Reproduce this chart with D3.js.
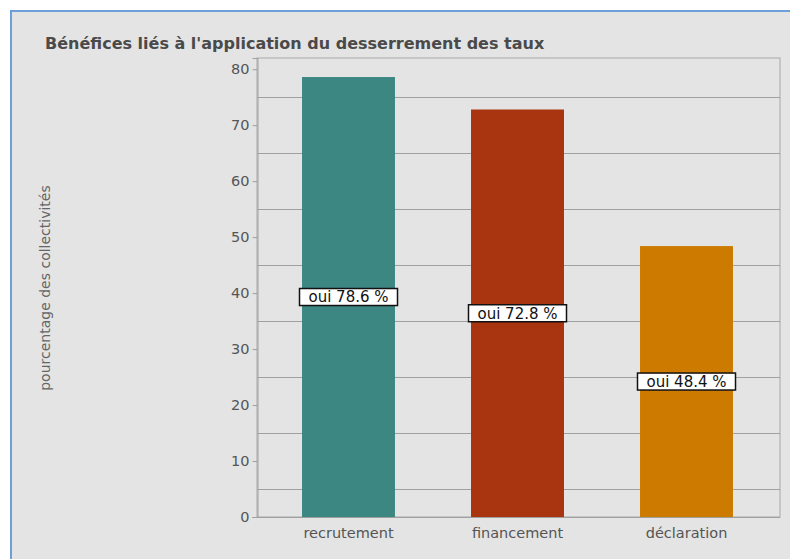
<!DOCTYPE html>
<html><head><meta charset="utf-8">
<script src="https://cdn.jsdelivr.net/npm/d3@7"></script>
<style>
html,body{margin:0;padding:0;background:#fff;}
svg{display:block;}
</style></head>
<body>
<script>
const categories = ["recrutement", "financement", "déclaration"];
const values = [78.6, 72.8, 48.4];
const labels = ["oui 78.6 %", "oui 72.8 %", "oui 48.4 %"];
const colors = ["#3d8782", "#a83410", "#cc7a00"];
const yTicks = [0, 10, 20, 30, 40, 50, 60, 70, 80];
const gridValues = [5, 15, 25, 35, 45, 55, 65, 75];
const title = "Bénéfices liés à l'application du desserrement des taux";
const yTitle = "pourcentage des collectivités";

const W = 790, H = 559;
const FONT = "DejaVu Sans, Verdana, sans-serif";
const svg = d3.select("body").append("svg").attr("width", W).attr("height", H);

// panel
svg.append("rect").attr("x", 11).attr("y", 11).attr("width", W).attr("height", H)
  .attr("fill", "#e4e4e4").attr("stroke", "#6d9fd8").attr("stroke-width", 2);

const plot = {left: 257, right: 780, top: 58, bottom: 517};
const y = d3.scaleLinear().domain([0, 82]).range([plot.bottom, plot.top]);
const x = d3.scaleBand().domain(categories).range([264, 771]).paddingInner(0.45).paddingOuter(0.225);

// plot frame
svg.append("rect").attr("x", plot.left).attr("y", plot.top)
  .attr("width", plot.right - plot.left).attr("height", plot.bottom - plot.top)
  .attr("fill", "none").attr("stroke", "#a8a8a8").attr("stroke-width", 1);

// gridlines
svg.append("g").selectAll("line").data(gridValues).join("line")
  .attr("x1", plot.left).attr("x2", plot.right)
  .attr("y1", d => Math.round(y(d)) + 0.5).attr("y2", d => Math.round(y(d)) + 0.5)
  .attr("stroke", "#a0a0a0").attr("stroke-width", 1);

// bars
svg.append("g").selectAll("rect").data(categories).join("rect")
  .attr("x", d => x(d)).attr("width", x.bandwidth())
  .attr("y", (d, i) => y(values[i])).attr("height", (d, i) => y(0) - y(values[i]))
  .attr("fill", (d, i) => colors[i]);

// y axis
const yAxis = svg.append("g").attr("transform", `translate(${plot.left + 0.5},0)`)
  .call(d3.axisLeft(y).tickValues(yTicks).tickSize(5).tickPadding(3));
yAxis.select(".domain").attr("stroke", "#a0a0a0");
yAxis.selectAll(".tick line").attr("stroke", "#a0a0a0");
yAxis.selectAll(".tick text").attr("fill", "#555").attr("font-family", FONT).attr("font-size", 14.5);

// x axis
const xAxis = svg.append("g").attr("transform", `translate(0,${plot.bottom + 0.5})`)
  .call(d3.axisBottom(x).tickSize(0).tickPadding(10));
xAxis.select(".domain").remove();
xAxis.selectAll(".tick text").attr("fill", "#555").attr("font-family", FONT).attr("font-size", 14.5);
svg.append("line").attr("x1", plot.left - 5).attr("x2", plot.right)
  .attr("y1", plot.bottom + 0.5).attr("y2", plot.bottom + 0.5).attr("stroke", "#a0a0a0");

// value labels
const lg = svg.append("g").selectAll("g").data(categories).join("g")
  .attr("transform", (d, i) => `translate(${x(d) + x.bandwidth() / 2},${y(values[i] / 2)})`);
lg.append("rect").attr("x", -49).attr("y", -8.5).attr("width", 98).attr("height", 17)
  .attr("fill", "#fff").attr("stroke", "#111").attr("stroke-width", 1.5);
lg.append("text").attr("text-anchor", "middle").attr("dy", "0.36em")
  .attr("font-family", FONT).attr("font-size", 15).attr("fill", "#111")
  .text((d, i) => labels[i]);

// title
svg.append("text").attr("x", 45).attr("y", 49)
  .attr("font-family", FONT).attr("font-size", 16).attr("font-weight", "bold")
  .attr("fill", "#4a4a4a").text(title);

// y title
svg.append("text").attr("transform", "translate(50,288) rotate(-90)")
  .attr("text-anchor", "middle").attr("font-family", FONT)
  .attr("font-size", 14).attr("fill", "#666").text(yTitle);
</script>
</body></html>
